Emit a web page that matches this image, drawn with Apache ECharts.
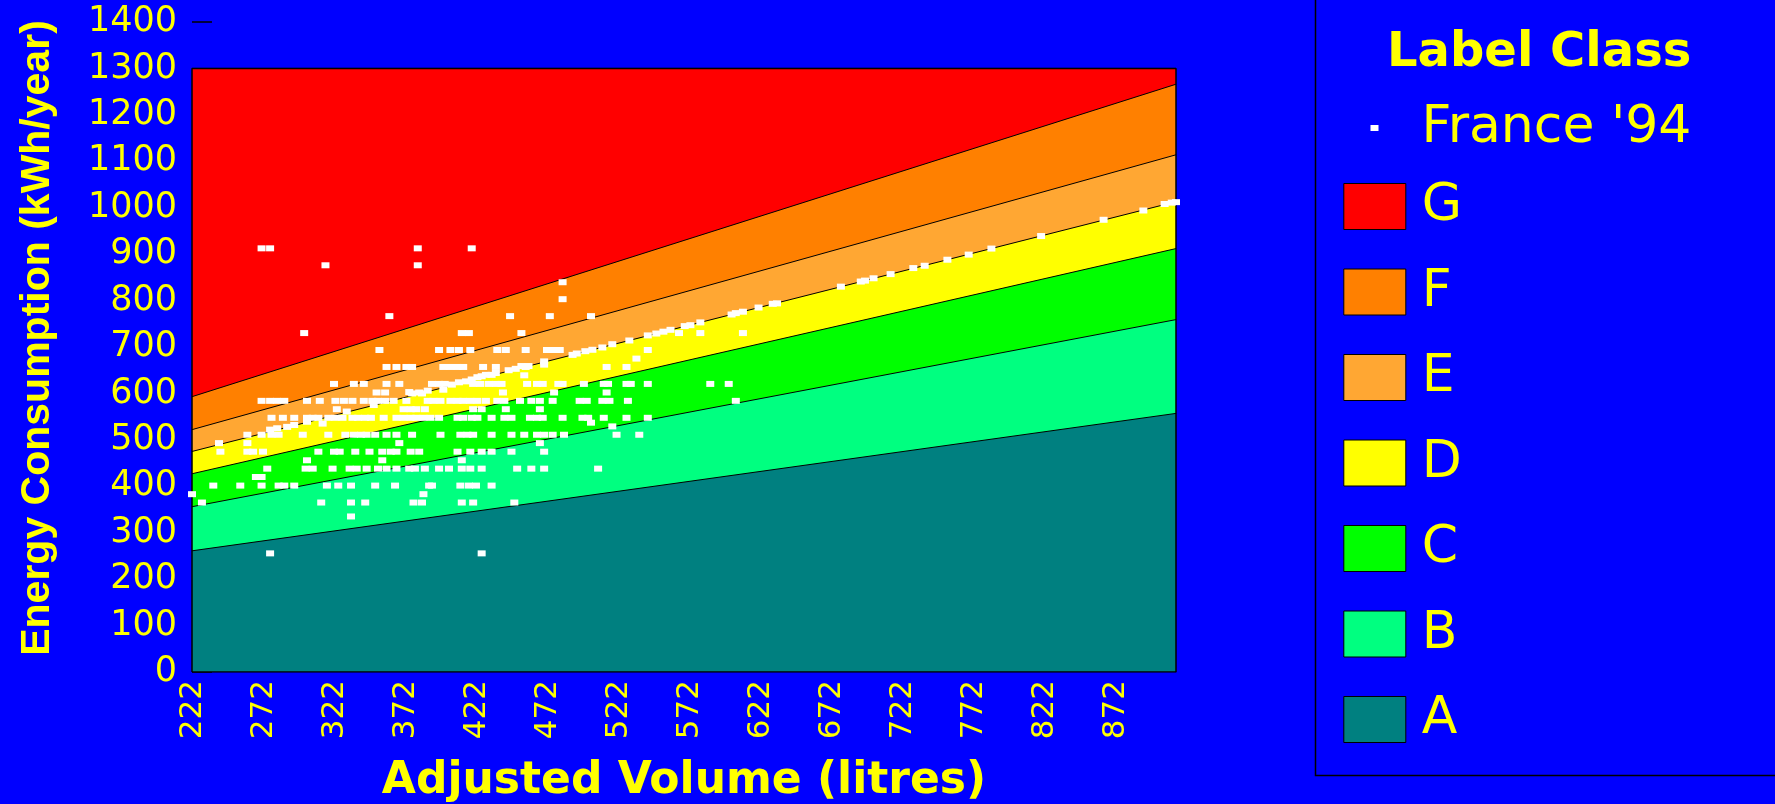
<!DOCTYPE html>
<html>
<head>
<meta charset="utf-8">
<script src="https://cdn.jsdelivr.net/npm/echarts@6/dist/echarts.min.js"></script>
<style>
html, body { margin: 0; padding: 0; background: #0000FF; }
#chart { width: 1775px; height: 804px; }
</style>
</head>
<body>
<div id="chart"></div>
<script>
// ---- data ----
const xTickLabels = [222, 272, 322, 372, 422, 472, 522, 572, 622, 672, 722, 772, 822, 872];
const volumeRange = [221, 914];
const consumptionMax = 1400;
const plotTop = 1300;

const classNames = ['G', 'F', 'E', 'D', 'C', 'B', 'A'];
const classColors = ['#FF0000', '#FF8000', '#FFA733', '#FFFF00', '#00FF00', '#00FF80', '#008080'];
// upper boundary of each class at the smallest and the largest volume
const classUpperAtMinVolume = [1300, 593, 522, 475, 427, 356, 261];
const classUpperAtMaxVolume = [1300, 1266, 1114, 1013, 912, 759, 557];

// France '94 appliances: volume (litres) and consumption (kWh/year)
const franceVolume = [
  270, 276, 380, 418,
  315, 380,
  482,
  482,
  360, 445, 473, 502,
  300, 411, 416, 453, 564, 579, 609,
  353, 395, 403, 409, 417, 436, 442, 456, 471, 476, 480, 542,
  534,
  358, 365, 372, 376, 398, 403, 408, 412, 426, 435, 456, 513, 527,
  455,
  321, 335, 342, 358, 367, 390, 395, 399, 419, 424, 430, 435, 439, 457, 464, 468, 479, 482, 497, 511, 514, 527, 530, 542, 586, 599,
  351, 357, 381, 440, 476, 513,
  270, 276, 281, 286, 302, 311, 322, 328, 334, 342, 348, 352, 357, 363, 372, 387, 391, 396, 403, 408, 412, 417, 422, 428, 436, 441, 452, 460, 466, 475, 494, 499, 510, 515, 528, 604,
  370, 375, 379, 385, 419, 425, 442, 466,
  277, 285, 293, 302, 306, 310, 317, 322, 327, 334, 338, 343, 347, 356, 365, 370, 375, 379, 384, 389, 395, 408, 412, 418, 422, 432, 441, 446, 459, 464, 468, 482, 496, 500, 511, 527, 542,
  502,
  517,
  260, 270, 277, 282, 299, 317, 329, 335, 340, 344, 350, 358, 365, 376, 396, 410, 415, 419, 432, 446, 455, 464, 469, 475, 483, 520, 536,
  240, 260, 367, 466,
  241, 260, 264, 271, 310, 321, 325, 336, 346, 355, 361, 365, 375, 381, 408, 417, 425, 432, 446, 469,
  302, 355, 411,
  274, 301, 306, 320, 332, 337, 344, 352, 358, 365, 374, 378, 385, 395, 402, 411, 417, 425, 450, 460, 469, 507,
  266, 270,
  236, 255, 270, 282, 286, 293, 316, 324, 333, 350, 364, 388, 390, 410, 416, 421, 432,
  221, 384,
  228, 312, 333, 343, 377, 383, 411, 419, 448,
  333,
  276, 425,
  276, 281, 288, 293, 302, 313, 323, 330, 349,
  374, 376, 383, 387, 398, 404, 409, 414, 418, 422, 425, 428, 432, 435, 444, 449, 453, 458, 469, 469,
  489, 492, 498, 503, 510, 517, 529, 542, 548, 553, 558, 568, 572, 579, 601, 604, 609,
  620, 630, 633, 678, 692, 695, 701, 713, 729, 737, 753, 768, 784, 819, 863, 891, 906, 911, 914
];
const franceConsumption = [
  912.5, 912.5, 912.5, 912.5,
  876, 876,
  839.5,
  803,
  766.5, 766.5, 766.5, 766.5,
  730, 730, 730, 730, 730, 730, 730,
  693.5, 693.5, 693.5, 693.5, 693.5, 693.5, 693.5, 693.5, 693.5, 693.5, 693.5, 693.5,
  675,
  657, 657, 657, 657, 657, 657, 657, 657, 657, 657, 657, 657, 657,
  639,
  620.5, 620.5, 620.5, 620.5, 620.5, 620.5, 620.5, 620.5, 620.5, 620.5, 620.5, 620.5, 620.5, 620.5, 620.5, 620.5, 620.5, 620.5, 620.5, 620.5, 620.5, 620.5, 620.5, 620.5, 620.5, 620.5,
  602, 602, 602, 602, 602, 602,
  584, 584, 584, 584, 584, 584, 584, 584, 584, 584, 584, 584, 584, 584, 584, 584, 584, 584, 584, 584, 584, 584, 584, 584, 584, 584, 584, 584, 584, 584, 584, 584, 584, 584, 584, 584,
  566, 566, 566, 566, 566, 566, 566, 566,
  547.5, 547.5, 547.5, 547.5, 547.5, 547.5, 547.5, 547.5, 547.5, 547.5, 547.5, 547.5, 547.5, 547.5, 547.5, 547.5, 547.5, 547.5, 547.5, 547.5, 547.5, 547.5, 547.5, 547.5, 547.5, 547.5, 547.5, 547.5, 547.5, 547.5, 547.5, 547.5, 547.5, 547.5, 547.5, 547.5, 547.5,
  537,
  529,
  511, 511, 511, 511, 511, 511, 511, 511, 511, 511, 511, 511, 511, 511, 511, 511, 511, 511, 511, 511, 511, 511, 511, 511, 511, 511, 511,
  493, 493, 493, 493,
  474.5, 474.5, 474.5, 474.5, 474.5, 474.5, 474.5, 474.5, 474.5, 474.5, 474.5, 474.5, 474.5, 474.5, 474.5, 474.5, 474.5, 474.5, 474.5, 474.5,
  456, 456, 456,
  438, 438, 438, 438, 438, 438, 438, 438, 438, 438, 438, 438, 438, 438, 438, 438, 438, 438, 438, 438, 438, 438,
  420, 420,
  401.5, 401.5, 401.5, 401.5, 401.5, 401.5, 401.5, 401.5, 401.5, 401.5, 401.5, 401.5, 401.5, 401.5, 401.5, 401.5, 401.5,
  383, 383,
  365, 365, 365, 365, 365, 365, 365, 365, 365,
  335,
  255.5, 255.5,
  522, 525, 528, 532, 539, 535, 566, 561, 575,
  603, 600, 600, 606, 608, 619, 624, 626, 630, 635, 637, 640, 640, 644, 650, 653, 659, 659, 669, 662,
  683, 686, 691, 694, 699, 706, 714, 725, 729, 733, 737, 745, 747, 753, 770, 773, 776,
  785, 793, 794, 830, 841, 843, 848, 857, 870, 875, 888, 899, 912, 939, 974, 994, 1008, 1011, 1012
];

// ---- chart ----
const YELLOW = '#FFFF00';
const chart = echarts.init(document.getElementById('chart'), null, { renderer: 'canvas' });

const bandSeries = classNames.map((name, i) => ({
  name: name,
  type: 'line',
  data: [[volumeRange[0], classUpperAtMinVolume[i]], [volumeRange[1], classUpperAtMaxVolume[i]]],
  symbol: 'none',
  silent: true,
  color: classColors[i],
  lineStyle: { color: '#000000', width: 1 },
  areaStyle: { color: classColors[i], opacity: 1 },
  z: 2
}));

const frameSeries = {
  name: 'frame',
  type: 'line',
  data: [[volumeRange[0], 0], [volumeRange[0], plotTop], [volumeRange[1], plotTop], [volumeRange[1], 0], [volumeRange[0], 0]],
  symbol: 'none',
  silent: true,
  lineStyle: { color: '#000000', width: 1.5 },
  z: 3
};

const scatterSeries = {
  name: "France '94",
  type: 'scatter',
  data: franceVolume.map((v, i) => [v, franceConsumption[i]]),
  symbol: 'rect',
  symbolSize: [8, 6],
  itemStyle: { color: '#FFFFFF', opacity: 1 },
  silent: true,
  z: 4
};

const legendText = { color: YELLOW, fontFamily: 'DejaVu Sans', fontSize: 52, lineHeight: 46 };

chart.setOption({
  backgroundColor: '#0000FF',
  animation: false,
  title: {
    text: 'Label Class',
    left: 1387,
    top: 30,
    padding: 0,
    textStyle: { color: YELLOW, fontFamily: 'DejaVu Sans', fontWeight: 'bold', fontSize: 48 }
  },
  grid: { left: 192, right: 599, top: 22, bottom: 132, outerBoundsMode: 'none', containLabel: false },
  xAxis: {
    type: 'value',
    min: volumeRange[0],
    max: volumeRange[1],
    name: 'Adjusted Volume (litres)',
    nameLocation: 'middle',
    nameGap: 88,
    nameTextStyle: { color: YELLOW, fontFamily: 'DejaVu Sans', fontWeight: 'bold', fontSize: 44 },
    axisLine: { show: false },
    axisTick: { show: false },
    splitLine: { show: false },
    axisLabel: {
      customValues: xTickLabels,
      rotate: 90,
      margin: 8,
      color: YELLOW,
      fontFamily: 'DejaVu Sans',
      fontSize: 31
    }
  },
  yAxis: {
    type: 'value',
    min: 0,
    max: consumptionMax,
    interval: 100,
    name: 'Energy Consumption (kWh/year)',
    nameLocation: 'middle',
    nameGap: 134,
    nameRotate: 90,
    nameTextStyle: {
      color: YELLOW, fontFamily: 'Liberation Sans', fontWeight: 'bold', fontSize: 41,
      padding: [0, 0, 0, 18]
    },
    axisLine: { show: false },
    axisTick: { show: true, inside: true, length: 20, lineStyle: { color: '#000000', width: 1.5 } },
    splitLine: { show: false },
    axisLabel: {
      color: YELLOW, fontFamily: 'DejaVu Sans', fontSize: 35, margin: 15,
      formatter: (v) => String(v)
    }
  },
  legend: [
    {
      data: [{ name: "France '94", icon: 'rect' }],
      orient: 'vertical',
      left: 1370.5,
      top: 102,
      padding: 0,
      itemWidth: 8,
      itemHeight: 6,
      selectedMode: false,
      itemStyle: { borderWidth: 0 },
      textStyle: Object.assign({}, legendText, { padding: [0, 0, 0, 38] })
    },
    {
      data: classNames.map((n, i) => ({
        name: n,
        icon: 'rect',
        itemStyle: { color: classColors[i], borderColor: '#000000', borderWidth: 1 }
      })),
      orient: 'vertical',
      left: 1343.3,
      top: 180.5,
      padding: 0,
      itemWidth: 62,
      itemHeight: 46,
      itemGap: 33.5,
      selectedMode: false,
      textStyle: Object.assign({}, legendText, { padding: [0, 0, 0, 11] })
    }
  ],
  graphic: [
    {
      type: 'rect',
      shape: { x: 1315.5, y: -5, width: 470, height: 780.5 },
      style: { fill: 'none', stroke: '#000000', lineWidth: 1.5 },
      silent: true
    }
  ],
  series: bandSeries.concat([frameSeries, scatterSeries])
});
</script>
</body>
</html>
